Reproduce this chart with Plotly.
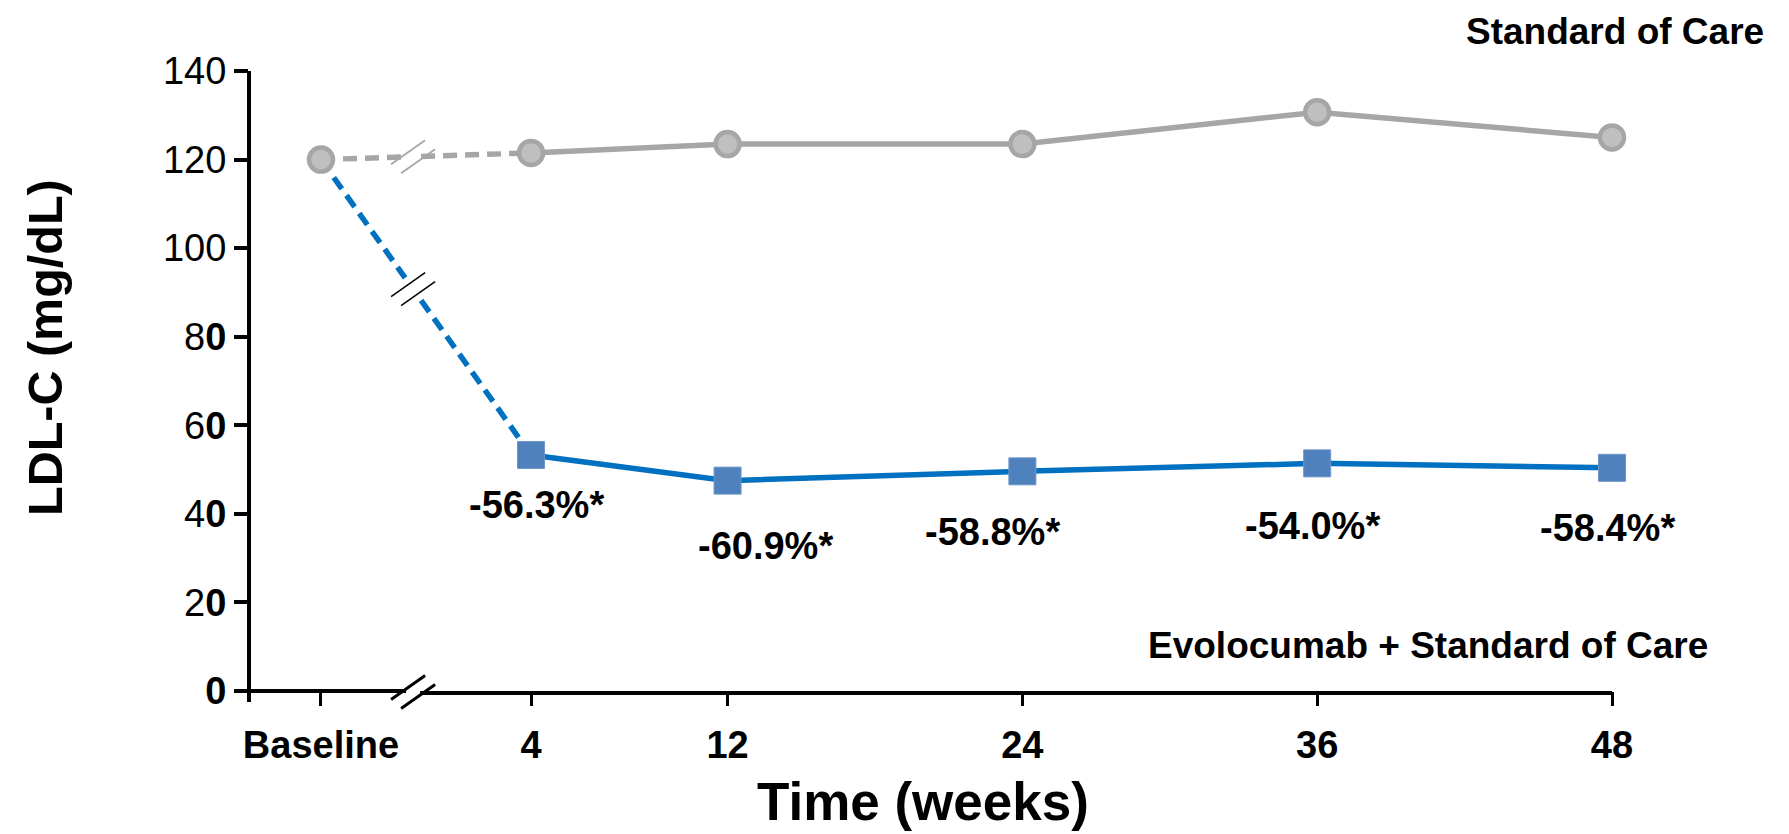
import plotly.graph_objects as go

# ---------------- data ----------------
weeks = [4, 12, 24, 36, 48]
tick_labels = ["Baseline", "4", "12", "24", "36", "48"]
soc_baseline = 120.0
soc_values = [121.5, 123.5, 123.5, 130.7, 125.0]
evo_baseline = 120.0
evo_values = [53.3, 47.5, 49.6, 51.4, 50.4]
pct_labels = ["-56.3%*", "-60.9%*", "-58.8%*", "-54.0%*", "-58.4%*"]
y_ticks = [0, 20, 40, 60, 80, 100, 120, 140]
y_tick_text = ["<b>0</b>", "2<b>0</b>", "4<b>0</b>", "6<b>0</b>", "8<b>0</b>", "100", "120", "140"]

# ---------------- layout constants ----------------
W, H = 1789, 834
ML = 249
MT = 71
MB = H - 691
MR = W - 1612
BASE_X = -4.55      # position of the "Baseline" category on the broken axis
BREAK_X = -0.8      # position of the axis break
X_MIN, X_MAX = -7.48, 48
Y_MIN, Y_MAX = 0, 140

PW = W - ML - MR
PH = H - MT - MB
px_per_x = PW / (X_MAX - X_MIN)
px_per_y = PH / (Y_MAX - Y_MIN)

BLUE_LINE = "#0070C0"
BLUE_MARK = "#4F81BD"
GRAY_LINE = "#A6A6A6"
GRAY_FILL = "#BFBFBF"
ARIAL = "Liberation Sans, Arial, sans-serif"

DASH = "14px,8px"
LW = 5.5

def px_x(xpix):  # page pixel -> paper x
    return (xpix - ML) / PW

def px_y(ypix):  # page pixel -> paper y
    return (H - MB - ypix) / PH

def lerp(x0, y0, x1, y1, x):
    return y0 + (y1 - y0) * (x - x0) / (x1 - x0)

fig = go.Figure()

gap = 8 / px_per_x  # half gap (data units) around the break

def dashed_with_break(y_base, y_first, color):
    xa = [BASE_X, BREAK_X - gap]
    ya = [y_base, lerp(BASE_X, y_base, weeks[0], y_first, BREAK_X - gap)]
    xb = [BREAK_X + gap, weeks[0]]
    yb = [lerp(BASE_X, y_base, weeks[0], y_first, BREAK_X + gap), y_first]
    for xs, ys in ((xa, ya), (xb, yb)):
        fig.add_trace(go.Scatter(x=xs, y=ys, mode="lines",
                                 line=dict(color=color, width=LW, dash=DASH),
                                 hoverinfo="skip", showlegend=False))

# blue (evolocumab) lines
dashed_with_break(evo_baseline, evo_values[0], BLUE_LINE)
fig.add_trace(go.Scatter(x=weeks, y=evo_values, mode="lines",
                         line=dict(color=BLUE_LINE, width=LW),
                         showlegend=False, cliponaxis=False))
# gray (standard of care) lines
dashed_with_break(soc_baseline, soc_values[0], GRAY_LINE)
fig.add_trace(go.Scatter(x=weeks, y=soc_values, mode="lines",
                         line=dict(color=GRAY_LINE, width=LW),
                         showlegend=False, cliponaxis=False))
# gray markers
fig.add_trace(go.Scatter(x=[BASE_X] + weeks, y=[soc_baseline] + soc_values,
                         mode="markers", cliponaxis=False, showlegend=False,
                         marker=dict(symbol="circle", size=24, color=GRAY_FILL,
                                     line=dict(color=GRAY_LINE, width=4.5))))
# blue markers
fig.add_trace(go.Scatter(x=weeks, y=evo_values, mode="markers",
                         cliponaxis=False, showlegend=False,
                         marker=dict(symbol="square", size=27, color=BLUE_MARK,
                                     line=dict(color="#6F95C8", width=1))))

shapes = []
# y axis line (extends slightly below zero)
shapes.append(dict(type="line", xref="paper", yref="paper",
                   x0=0, x1=0, y0=-11 / PH, y1=1,
                   line=dict(color="black", width=4)))
# x axis line with break
bx_left = BREAK_X - 7 / px_per_x
bx_right = BREAK_X + 7 / px_per_x
shapes.append(dict(type="line", xref="x", yref="paper", x0=X_MIN, x1=bx_left,
                   y0=0, y1=0, line=dict(color="black", width=4)))
shapes.append(dict(type="line", xref="x", yref="paper", x0=bx_right, x1=X_MAX,
                   y0=-2 / PH, y1=-2 / PH, line=dict(color="black", width=4)))

def slash_pair(xc, yc_paper, color, width, dx=17, dy=12, sep=10):
    out = []
    for s in (-sep / 2, sep / 2):
        x0 = xc + (s - dx) / px_per_x
        x1 = xc + (s + dx) / px_per_x
        y0 = yc_paper - (dy + s * 0.9) / PH
        y1 = yc_paper + (dy - s * 0.9) / PH
        out.append(dict(type="line", xref="x", yref="paper",
                        x0=x0, x1=x1, y0=y0, y1=y1,
                        line=dict(color=color, width=width)))
    return out

shapes += slash_pair(BREAK_X, -1 / PH, "black", 3)
y_soc_break = lerp(BASE_X, soc_baseline, weeks[0], soc_values[0], BREAK_X)
shapes += slash_pair(BREAK_X, (y_soc_break - Y_MIN) / (Y_MAX - Y_MIN), GRAY_LINE, 1.8)
y_evo_break = lerp(BASE_X, evo_baseline, weeks[0], evo_values[0], BREAK_X)
shapes += slash_pair(BREAK_X, (y_evo_break - Y_MIN) / (Y_MAX - Y_MIN), "black", 1.5)

annotations = []
x_shifts = [5, 38, -30, -5, -5]
y_shifts = [-50, -65, -61, -63, -60]
for xv, yv, t, xs, ys in zip(weeks, evo_values, pct_labels, x_shifts, y_shifts):
    annotations.append(dict(x=xv, y=yv, xref="x", yref="y", text=f"<b>{t}</b>",
                            showarrow=False, xshift=xs, yshift=ys,
                            font=dict(family=ARIAL, size=38, color="black")))

annotations.append(dict(x=px_x(1766), y=px_y(31), xref="paper", yref="paper",
                        text="<b>Standard of Care</b>", showarrow=False,
                        xanchor="right", yanchor="middle",
                        font=dict(family=ARIAL, size=37, color="black")))
annotations.append(dict(x=px_x(1428), y=px_y(645), xref="paper", yref="paper",
                        text="<b>Evolocumab + Standard of Care</b>", showarrow=False,
                        xanchor="center", yanchor="middle",
                        font=dict(family=ARIAL, size=37, color="black")))
annotations.append(dict(x=px_x(45), y=px_y(348), xref="paper", yref="paper",
                        text="<b>LDL-C (mg/dL)</b>", showarrow=False, textangle=-90,
                        xanchor="center", yanchor="middle",
                        font=dict(family=ARIAL, size=48.5, color="black")))
annotations.append(dict(x=px_x(923), y=px_y(801), xref="paper", yref="paper",
                        text="<b>Time (weeks)</b>", showarrow=False,
                        xanchor="center", yanchor="middle",
                        font=dict(family=ARIAL, size=53, color="black")))

fig.update_layout(
    width=W, height=H,
    margin=dict(l=ML, r=MR, t=MT, b=MB, pad=0),
    paper_bgcolor="white", plot_bgcolor="white",
    shapes=shapes, annotations=annotations,
    showlegend=False,
    xaxis=dict(range=[X_MIN, X_MAX], showgrid=False, zeroline=False, showline=False,
               tickmode="array", tickvals=[BASE_X] + weeks,
               ticktext=[f"<b>{t}</b>" for t in tick_labels],
               ticks="outside", ticklen=14, tickwidth=3, tickcolor="black",
               ticklabelstandoff=6,
               tickfont=dict(family=ARIAL, size=38, color="black"),
               fixedrange=True, automargin=False),
    yaxis=dict(range=[Y_MIN, Y_MAX], showgrid=False, zeroline=False, showline=False,
               tickmode="array", tickvals=y_ticks, ticktext=y_tick_text,
               ticks="outside", ticklen=14, tickwidth=4, tickcolor="black",
               tickfont=dict(family=ARIAL, size=38, color="black"),
               fixedrange=True, automargin=False),
)

fig.write_html("out.html",
               config={"displayModeBar": False},
               post_script="document.body.style.margin='0';document.body.style.overflow='hidden';")
